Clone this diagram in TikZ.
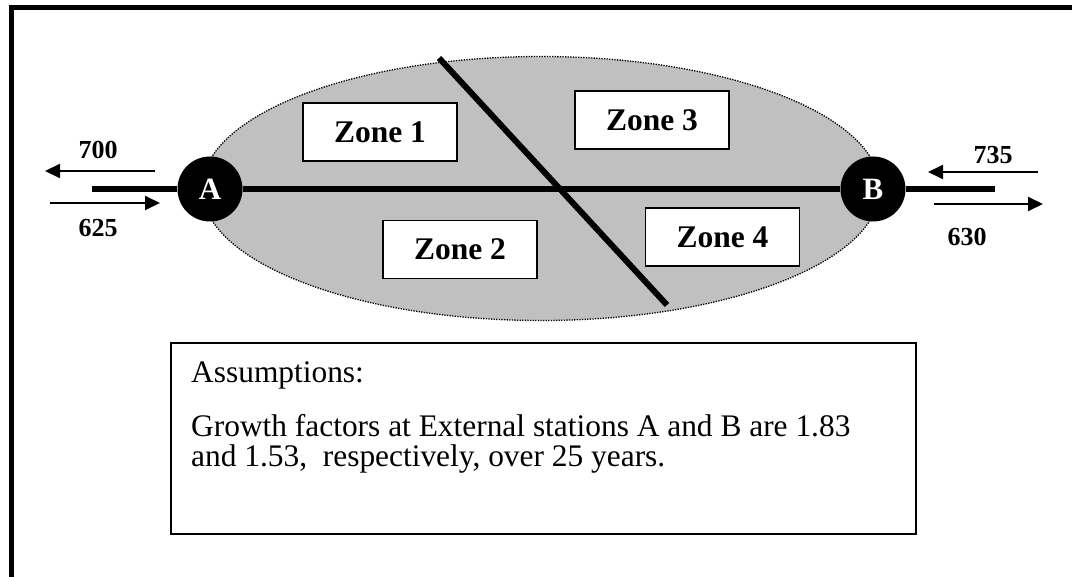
\documentclass[tikz,border=0pt]{standalone}
\usepackage{fontspec}
\setmainfont{Liberation Serif}
\usetikzlibrary{arrows.meta}

\definecolor{zonegray}{HTML}{C0C0C0}

\tikzset{
  frameline/.style={line width=4.5pt, line join=miter},
  region/.style={fill=zonegray, draw=black, line width=1.3pt, dash pattern=on 1.3pt off 1.3pt},
  road/.style={line width=6.5pt},
  divider/.style={line width=6pt},
  station/.style={circle, fill=black, minimum size=65pt, inner sep=0pt,
    text=white, font=\fontsize{31}{31}\selectfont\bfseries},
  zonebox/.style={draw=black, fill=white, line width=1.5pt, minimum width=154pt,
    minimum height=58pt, inner sep=0pt, font=\fontsize{31.5}{31.5}\selectfont\bfseries},
  flow/.style={line width=2pt, -{Triangle[length=15pt,width=14pt]}},
  flowlabel/.style={inner sep=0pt, font=\fontsize{26}{26}\selectfont\bfseries},
  notebox/.style={draw=black, line width=1.5pt},
  notetext/.style={inner sep=0pt, anchor=base west,
    font=\fontsize{31.4}{31.4}\selectfont}
}

\begin{document}
\begin{tikzpicture}[x=1pt, y=-1pt]
  \useasboundingbox (0,0) rectangle (1072,577);

  % outer frame: left and top edges
  \draw[frameline] (11.5,577) -- (11.5,7.5) -- (1072,7.5);

  % study area
  \draw[region] (541,188.5) ellipse [x radius=339, y radius=132];

  % zones
  \node[zonebox] (z1) at (380,132)   {Zone 1};
  \node[zonebox] (z2) at (460,249.5) {Zone 2};
  \node[zonebox] (z3) at (652,120)   {Zone 3};
  \node[zonebox] (z4) at (722.5,237) {Zone 4};

  % dividing cordon line
  \coordinate (dtop) at (439,58);
  \coordinate (dbot) at (667,305);
  \draw[divider] (dtop) -- (dbot);

  % external stations and the through road
  \coordinate (wend) at (92,189);
  \coordinate (eend) at (995,189);
  \node[station] (A) at (210,189) {A};
  \node[station] (B) at (873,189) {B};
  \draw[road] (wend) -- (A);
  \draw[road] (A) -- (B);
  \draw[road] (B) -- (eend);

  % trips at station A
  \coordinate (aoutS) at (155,171);
  \coordinate (aoutE) at (45,171);
  \coordinate (ainS)  at (50,203);
  \coordinate (ainE)  at (160,203);
  \draw[flow] (aoutS) -- (aoutE);
  \draw[flow] (ainS) -- (ainE);
  \node[flowlabel] (l700) at (98,150) {700};
  \node[flowlabel] (l625) at (98,228) {625};

  % trips at station B
  \coordinate (binS)  at (1038,172);
  \coordinate (binE)  at (928,172);
  \coordinate (boutS) at (934,204);
  \coordinate (boutE) at (1043,204);
  \draw[flow] (binS) -- (binE);
  \draw[flow] (boutS) -- (boutE);
  \node[flowlabel] (l735) at (993,155) {735};
  \node[flowlabel] (l630) at (967,237) {630};

  % assumptions note
  \draw[notebox] (171,343) rectangle (916,534);
  \node[notetext] (ahead)  at (191,383) {Assumptions:};
  \node[notetext] (abody1) at (191,437) {Growth factors at External stations A and B are 1.83};
  \node[notetext] (abody2) at (191,467) {and 1.53,\ \ respectively, over 25 years.};
\end{tikzpicture}
\end{document}
